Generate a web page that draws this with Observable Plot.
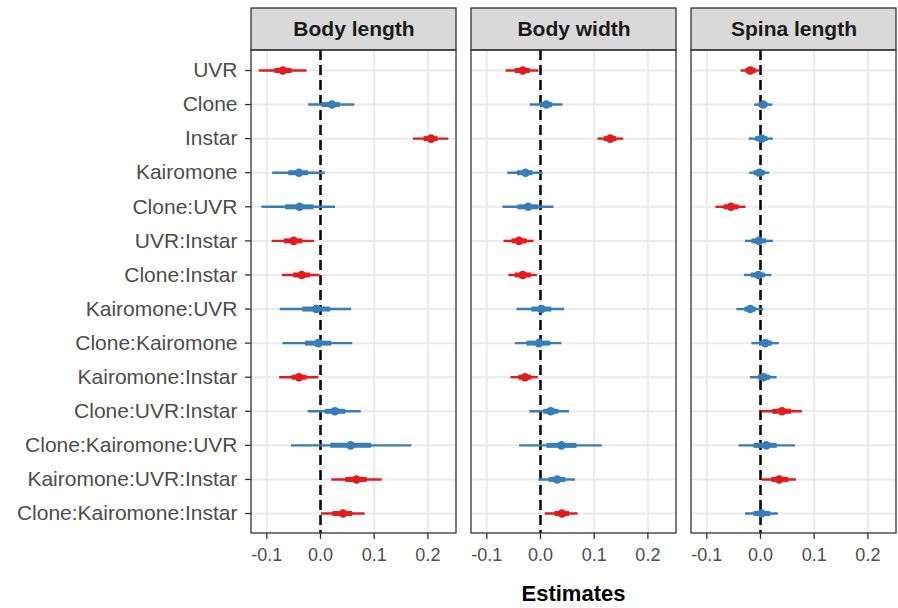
<!DOCTYPE html>
<html><head><meta charset="utf-8">
<script src="https://cdn.jsdelivr.net/npm/d3@7"></script>
<script src="https://cdn.jsdelivr.net/npm/@observablehq/plot@0.6"></script>
<style>
body{margin:0;background:#fff;}
#wrap{position:relative;width:898px;height:608px;background:#fff;overflow:hidden;}
#chart svg{display:block;}
#xlabel{position:absolute;left:251px;width:645px;top:584px;height:22px;text-align:center;font:bold 22px "Liberation Sans",Arial,sans-serif;line-height:20px;color:#000;}
</style></head><body>
<div id="wrap"><div id="chart"></div><div id="xlabel">Estimates</div></div>
<script>
const terms = ["UVR","Clone","Instar","Kairomone","Clone:UVR","UVR:Instar","Clone:Instar","Kairomone:UVR","Clone:Kairomone","Kairomone:Instar","Clone:UVR:Instar","Clone:Kairomone:UVR","Kairomone:UVR:Instar","Clone:Kairomone:Instar"];
const traits = ["Body length","Body width","Spina length"];
const xTicks = [-0.1, 0, 0.1, 0.2];

const bodyLengthEst  = [-0.070, 0.021, 0.206, -0.040, -0.039, -0.050, -0.035, -0.008, -0.004, -0.040, 0.027, 0.056, 0.067, 0.042];
const bodyLengthLo95 = [-0.114, -0.022, 0.173, -0.089, -0.109, -0.090, -0.071, -0.075, -0.070, -0.076, -0.023, -0.054, 0.021, 0.002];
const bodyLengthHi95 = [-0.025, 0.064, 0.239, 0.009, 0.028, -0.011, -0.001, 0.058, 0.060, -0.003, 0.076, 0.170, 0.115, 0.083];
const bodyLengthLo50 = [-0.085, 0.003, 0.193, -0.059, -0.065, -0.067, -0.050, -0.033, -0.028, -0.053, 0.009, 0.019, 0.047, 0.023];
const bodyLengthHi50 = [-0.053, 0.037, 0.219, -0.022, -0.012, -0.033, -0.019, 0.019, 0.021, -0.025, 0.047, 0.095, 0.087, 0.060];
const bodyLengthSig  = [1,0,1,0,0,1,1,0,0,1,0,0,1,1];

const bodyWidthEst  = [-0.033, 0.011, 0.130, -0.028, -0.023, -0.040, -0.033, 0.002, -0.003, -0.029, 0.019, 0.039, 0.031, 0.040];
const bodyWidthLo95 = [-0.064, -0.019, 0.107, -0.061, -0.070, -0.068, -0.059, -0.044, -0.047, -0.055, -0.020, -0.039, -0.003, 0.009];
const bodyWidthHi95 = [-0.003, 0.042, 0.155, 0.005, 0.025, -0.012, -0.006, 0.045, 0.040, -0.004, 0.054, 0.115, 0.065, 0.070];
const bodyWidthLo50 = [-0.047, 0.000, 0.119, -0.043, -0.042, -0.053, -0.047, -0.016, -0.025, -0.040, 0.006, 0.012, 0.016, 0.027];
const bodyWidthHi50 = [-0.019, 0.023, 0.142, -0.014, -0.003, -0.025, -0.017, 0.021, 0.019, -0.016, 0.034, 0.068, 0.047, 0.054];
const bodyWidthSig  = [1,0,1,0,0,1,1,0,0,1,0,0,0,1];

const spinaEst  = [-0.019, 0.005, 0.002, -0.002, -0.055, -0.003, -0.004, -0.019, 0.009, 0.006, 0.040, 0.011, 0.035, 0.002];
const spinaLo95 = [-0.036, -0.011, -0.021, -0.020, -0.083, -0.028, -0.030, -0.044, -0.016, -0.019, 0.002, -0.040, 0.003, -0.028];
const spinaHi95 = [-0.001, 0.023, 0.024, 0.017, -0.027, 0.024, 0.021, 0.006, 0.035, 0.031, 0.078, 0.065, 0.067, 0.033];
const spinaLo50 = [-0.027, -0.003, -0.009, -0.012, -0.068, -0.016, -0.017, -0.029, -0.002, -0.004, 0.023, -0.012, 0.021, -0.012];
const spinaHi50 = [-0.008, 0.014, 0.014, 0.009, -0.040, 0.012, 0.009, -0.008, 0.022, 0.019, 0.058, 0.031, 0.053, 0.019];
const spinaSig  = [1,0,0,0,1,0,0,0,0,0,1,0,1,0];

const series = [
  [bodyLengthEst, bodyLengthLo95, bodyLengthHi95, bodyLengthLo50, bodyLengthHi50, bodyLengthSig],
  [bodyWidthEst, bodyWidthLo95, bodyWidthHi95, bodyWidthLo50, bodyWidthHi50, bodyWidthSig],
  [spinaEst, spinaLo95, spinaHi95, spinaLo50, spinaHi50, spinaSig]
];
const rows = [];
traits.forEach((t, k) => {
  const [e, l95, h95, l50, h50, s] = series[k];
  terms.forEach((term, i) => rows.push({trait: t, term, i, est: e[i], lo95: l95[i], hi95: h95[i], lo50: l50[i], hi50: h50[i], sig: s[i]}));
});

const xmin = -0.1285, xmax = 0.2533;
const yHeadTop = -1.819, yPanelTop = -0.587, yPanelBottom = 13.586;
const RED = "#E41A1C", BLUE = "#377EB8";
const FONT = '"Liberation Sans", Arial, sans-serif';

const dataMarks = [];
for (const [color, flag] of [[BLUE, 0], [RED, 1]]) {
  dataMarks.push(
    Plot.ruleY(rows, {filter: d => d.sig === flag, y: "i", x1: "lo95", x2: "hi95", stroke: color, strokeWidth: 2.4}),
    Plot.ruleY(rows, {filter: d => d.sig === flag, y: "i", x1: "lo50", x2: "hi50", stroke: color, strokeWidth: 5}),
    Plot.dot(rows, {filter: d => d.sig === flag, x: "est", y: "i", r: 4.3, fill: color, stroke: "none"})
  );
}

const chart = Plot.plot({
  width: 898, height: 570,
  marginLeft: 251, marginRight: 2, marginTop: 8, marginBottom: 37,
  style: {fontFamily: FONT, background: "white", overflow: "visible"},
  facet: {data: rows, x: "trait"},
  fx: {domain: traits, paddingInner: 15/220, paddingOuter: 0, round: false, axis: null, label: null},
  x: {domain: [xmin, xmax]},
  y: {domain: [yHeadTop, yPanelBottom], reverse: true},
  marks: [
    Plot.ruleX(xTicks, {x: d => d, y1: yPanelTop, y2: yPanelBottom, stroke: "#EBEBEB", strokeWidth: 2}),
    Plot.ruleY(d3.range(terms.length), {y: d => d, stroke: "#EBEBEB", strokeWidth: 2}),
    Plot.ruleX([0], {x: d => d, y1: yPanelTop, y2: yPanelBottom, stroke: "#000", strokeWidth: 2.5, strokeDasharray: "10,5"}),
    ...dataMarks,
    Plot.rect(rows, {filter: d => d.i === 0, x1: () => xmin, x2: () => xmax, y1: () => yHeadTop, y2: () => yPanelTop, fill: "#D9D9D9", stroke: "#333333", strokeWidth: 1.3}),
    Plot.text(rows, {filter: d => d.i === 0, x: () => (xmin + xmax) / 2, y: () => (yHeadTop + yPanelTop) / 2, text: "trait", fontSize: 21, fontWeight: "bold", fill: "#1A1A1A"}),
    Plot.rect([0], {x1: () => xmin, x2: () => xmax, y1: () => yPanelTop, y2: () => yPanelBottom, fill: "none", stroke: "#333333", strokeWidth: 1.3}),
    Plot.axisX(xTicks, {tickFormat: d => d.toFixed(1), tickSize: 6, tickPadding: 9, fontSize: 18, fill: "#4D4D4D", stroke: "#333333", strokeWidth: 1.3, label: null}),
    Plot.axisY(d3.range(terms.length), {tickFormat: i => terms[i], tickSize: 6, tickPadding: 8, fontSize: 21, fill: "#4D4D4D", stroke: "#333333", strokeWidth: 1.3, label: null})
  ]
});
document.getElementById("chart").appendChild(chart);
</script>
</body></html>
